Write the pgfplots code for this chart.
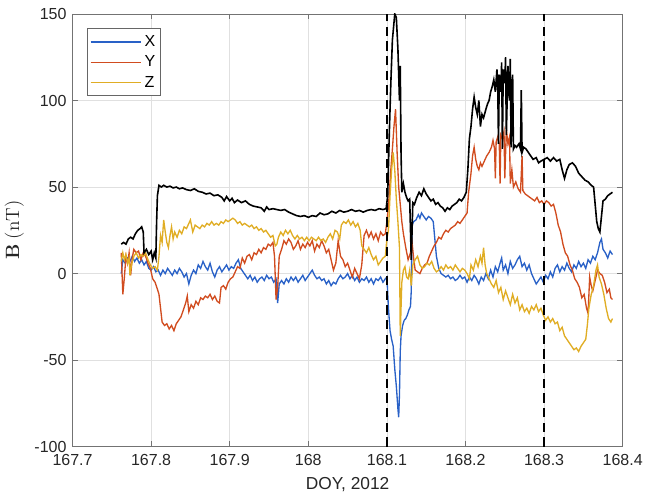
\documentclass[border=0pt]{standalone}
\usepackage[no-math]{fontspec}
\setmainfont{Liberation Sans}
\usepackage{pgfplots}
\pgfplotsset{compat=1.18}
\definecolor{mblue}{rgb}{0.16,0.38,0.78}
\definecolor{mred}{rgb}{0.82,0.30,0.12}
\definecolor{myel}{rgb}{0.88,0.68,0.14}
\definecolor{axgray}{rgb}{0.15,0.15,0.15}
\begin{document}
\begin{tikzpicture}
\useasboundingbox (-54.4pt,-40pt) rectangle (429.4pt,335pt);
\begin{axis}[
  at={(0pt,0pt)}, anchor=south west,
  width=412.65pt, height=324.5pt, scale only axis,
  xmin=167.7, xmax=168.4, ymin=-100, ymax=150,
  xtick={167.7,167.8,167.9,168.0,168.1,168.2,168.3,168.4},
  xticklabels={167.7,167.8,167.9,168,168.1,168.2,168.3,168.4},
  ytick={-100,-50,0,50,100,150},
  yticklabels={-100,-50,0,50,100,150},
  tick align=inside, major tick length=4pt,
  grid=major, grid style={black!12, line width=0.5pt},
  axis line style={black!55, line width=0.6pt},
  tick style={black!55, line width=0.6pt},
  ticklabel style={font=\fontsize{12}{14}\selectfont, text=axgray},
  xticklabel style={yshift=-2.5pt},
  yticklabel style={xshift=-1pt},
  xlabel={DOY, 2012},
  ylabel={$\mathbf{B}\ (\mathrm{nT})$},
  xlabel style={font=\fontsize{13}{15}\selectfont, text=axgray, yshift=-2pt},
  ylabel style={font=\fontsize{14.5}{16}\selectfont, text=axgray, yshift=1pt},
  legend style={at={(0.026,0.967)}, anchor=north west, draw=black!60, line width=0.6pt,
    font=\fontsize{12}{14}\selectfont, row sep=1.5pt, inner xsep=2pt, inner ysep=3pt},
  legend cell align=left,
  legend image code/.code={\draw[#1] (0pt,0pt) -- (38pt,0pt);},
]
% X (blue)
\addplot[mblue, line width=1pt] coordinates {
(167.762,0) (167.764,8) (167.767,6) (167.770,9) (167.773,7) (167.776,10) (167.779,7) (167.782,9) (167.785,6) (167.788,8)
(167.791,5) (167.794,7) (167.797,3) (167.800,2) (167.803,4) (167.806,1) (167.809,2) (167.812,-1) (167.815,2) (167.818,0)
(167.821,3) (167.824,1) (167.827,-1) (167.830,2) (167.833,0) (167.836,3) (167.839,1) (167.842,-2) (167.845,0) (167.848,-6)
(167.851,-1) (167.854,2) (167.857,0) (167.860,5) (167.863,3) (167.866,7) (167.869,4) (167.872,2) (167.875,6) (167.878,1)
(167.881,-2) (167.884,2) (167.887,4) (167.890,1) (167.893,3) (167.896,5) (167.899,2) (167.902,4) (167.905,3) (167.908,6)
(167.911,8) (167.914,3) (167.917,1) (167.920,-1) (167.923,-3) (167.926,-1) (167.929,-4) (167.932,-2) (167.935,-5) (167.938,-3)
(167.941,-2) (167.944,-4) (167.947,-1) (167.950,-3) (167.953,-2) (167.956,-5) (167.959,-3) (167.961,-17) (167.963,-6) (167.966,-4)
(167.969,-6) (167.972,-3) (167.975,-5) (167.978,-2) (167.981,-4) (167.984,-2) (167.987,-5) (167.990,-3) (167.993,-1) (167.996,-4)
(167.999,-2) (168.002,0) (168.005,2) (168.008,-1) (168.011,-3) (168.014,-2) (168.017,-4) (168.020,-3) (168.023,-6) (168.026,-4)
(168.029,-7) (168.032,-5) (168.035,-6) (168.038,-3) (168.041,-1) (168.044,-3) (168.047,-2) (168.050,0) (168.053,-3) (168.056,-1)
(168.059,-4) (168.062,-2) (168.065,-5) (168.068,-3) (168.071,-4) (168.074,-2) (168.077,-5) (168.080,-3) (168.083,-6) (168.086,-3)
(168.089,-4) (168.092,-2) (168.095,-5) (168.098,-3) (168.100,-2) (168.102,-20) (168.104,-33) (168.106,-38) (168.108,-42) (168.110,-55)
(168.112,-65) (168.114,-78) (168.115,-83) (168.116,-70) (168.117,-45) (168.118,-36) (168.120,-30) (168.122,-27) (168.124,-26) (168.126,-24)
(168.128,-21) (168.130,-19) (168.131,-10) (168.132,28) (168.134,30) (168.137,31) (168.140,34) (168.142,32) (168.144,35) (168.147,33)
(168.150,31) (168.153,33) (168.156,32) (168.159,30) (168.161,20) (168.163,10) (168.166,3) (168.169,0) (168.172,-1) (168.175,-2)
(168.178,-1) (168.181,-3) (168.184,-2) (168.187,-4) (168.190,-3) (168.193,-1) (168.196,-3) (168.199,-2) (168.202,-5) (168.205,-2)
(168.208,-4) (168.211,-1) (168.214,-3) (168.217,-6) (168.220,-2) (168.223,-4) (168.226,0) (168.229,-3) (168.232,2) (168.235,-2)
(168.238,4) (168.241,1) (168.244,6) (168.246,9) (168.248,2) (168.251,5) (168.254,0) (168.257,7) (168.260,3) (168.263,5)
(168.266,8) (168.269,10) (168.272,4) (168.275,6) (168.278,2) (168.281,5) (168.284,0) (168.287,-3) (168.290,-6) (168.293,-4)
(168.296,-2) (168.299,-5) (168.302,-1) (168.305,-3) (168.308,1) (168.311,-2) (168.314,3) (168.317,5) (168.320,1) (168.323,4)
(168.326,2) (168.329,6) (168.332,3) (168.335,1) (168.338,5) (168.341,3) (168.344,7) (168.347,4) (168.350,6) (168.353,3)
(168.356,8) (168.359,6) (168.362,10) (168.365,8) (168.368,12) (168.371,18) (168.373,20) (168.375,14) (168.378,12) (168.381,9)
(168.384,13) (168.387,11)
};
\addlegendentry{X}
% Y (red)
\addplot[mred, line width=1pt] coordinates {
(167.762,12) (167.764,-12) (167.766,-2) (167.768,10) (167.770,6) (167.772,12) (167.774,-1) (167.776,9) (167.778,14) (167.781,12)
(167.784,13) (167.787,8) (167.790,12) (167.793,10) (167.796,6) (167.799,3) (167.802,-3) (167.805,-5) (167.808,-9) (167.810,-12)
(167.812,-20) (167.814,-28) (167.817,-30) (167.820,-29) (167.823,-32) (167.826,-30) (167.829,-33) (167.832,-29) (167.835,-27) (167.838,-25)
(167.841,-21) (167.844,-17) (167.846,-13) (167.848,-22) (167.851,-18) (167.854,-20) (167.857,-16) (167.860,-18) (167.863,-14) (167.866,-15)
(167.869,-13) (167.872,-14) (167.875,-12) (167.878,-15) (167.881,-13) (167.884,-16) (167.887,-17) (167.889,-8) (167.892,-7) (167.895,-9)
(167.898,-5) (167.901,-3) (167.904,-2) (167.907,1) (167.910,4) (167.913,3) (167.916,9) (167.919,6) (167.922,10) (167.925,11)
(167.928,8) (167.931,12) (167.934,11) (167.937,14) (167.940,12) (167.943,15) (167.946,14) (167.949,17) (167.952,16) (167.955,18)
(167.957,10) (167.959,-15) (167.961,-8) (167.963,10) (167.966,14) (167.969,19) (167.972,17) (167.975,20) (167.978,18) (167.981,14)
(167.984,16) (167.987,19) (167.990,14) (167.993,17) (167.996,15) (167.999,18) (168.002,16) (168.005,19) (168.008,13) (168.011,17)
(168.014,15) (168.017,19) (168.020,16) (168.023,12) (168.026,14) (168.029,8) (168.032,2) (168.035,6) (168.038,19) (168.041,10)
(168.044,8) (168.047,4) (168.050,6) (168.053,2) (168.056,-2) (168.059,3) (168.062,0) (168.065,-3) (168.068,5) (168.071,22)
(168.074,25) (168.077,21) (168.080,24) (168.083,20) (168.086,23) (168.089,19) (168.092,24) (168.095,22) (168.098,23) (168.100,30)
(168.102,39) (168.105,60) (168.107,72) (168.109,85) (168.111,95) (168.113,70) (168.115,50) (168.117,40) (168.119,30) (168.121,23)
(168.124,15) (168.127,8) (168.130,12) (168.132,18) (168.134,9) (168.136,2) (168.139,1) (168.142,0) (168.145,3) (168.148,5)
(168.151,6) (168.154,10) (168.157,13) (168.160,16) (168.163,18) (168.166,21) (168.169,20) (168.172,23) (168.175,25) (168.178,24)
(168.181,26) (168.184,27) (168.187,28) (168.190,30) (168.193,29) (168.196,31) (168.199,33) (168.202,35) (168.204,47) (168.207,58)
(168.209,68) (168.211,73) (168.213,66) (168.215,62) (168.217,60) (168.219,64) (168.221,62) (168.224,65) (168.227,68) (168.230,70)
(168.233,73) (168.235,77) (168.237,72) (168.238,55) (168.239,76) (168.241,79) (168.243,75) (168.244,52) (168.245,80) (168.247,78)
(168.249,82) (168.250,55) (168.252,83) (168.254,75) (168.256,79) (168.257,52) (168.259,60) (168.261,50) (168.264,53) (168.267,49)
(168.270,47) (168.272,68) (168.273,48) (168.276,46) (168.279,45) (168.282,44) (168.285,43) (168.288,42) (168.291,44) (168.294,41)
(168.297,42) (168.300,40) (168.303,42) (168.306,41) (168.309,39) (168.312,40) (168.315,35) (168.318,28) (168.321,24) (168.324,17)
(168.327,12) (168.330,10) (168.333,5) (168.336,2) (168.339,-3) (168.342,-5) (168.345,-8) (168.348,-14) (168.351,-12) (168.354,-20)
(168.356,-23) (168.358,-2) (168.360,-7) (168.362,-10) (168.365,-4) (168.368,2) (168.371,0) (168.374,-1) (168.377,-5) (168.380,-11)
(168.383,-9) (168.385,-14) (168.387,-15)
};
\addlegendentry{Y}
% Z (yellow)
\addplot[myel, line width=1pt] coordinates {
(167.762,7) (167.764,12) (167.766,8) (167.768,11) (167.770,6) (167.772,9) (167.773,-1) (167.775,5) (167.778,10) (167.781,12)
(167.784,9) (167.787,11) (167.790,10) (167.793,12) (167.796,8) (167.799,5) (167.802,3) (167.805,4) (167.808,2) (167.810,10)
(167.812,22) (167.814,18) (167.816,31) (167.818,24) (167.820,18) (167.822,15) (167.824,22) (167.826,27) (167.828,20) (167.830,24)
(167.833,21) (167.836,25) (167.839,23) (167.842,27) (167.845,26) (167.848,29) (167.850,31) (167.853,24) (167.856,28) (167.859,27)
(167.862,26) (167.865,28) (167.868,27) (167.871,29) (167.874,28) (167.877,30) (167.880,28) (167.883,29) (167.886,28) (167.889,30)
(167.892,29) (167.895,31) (167.898,30) (167.901,31) (167.904,32) (167.907,31) (167.910,29) (167.913,30) (167.916,28) (167.919,29)
(167.922,28) (167.925,27) (167.928,28) (167.931,26) (167.934,27) (167.937,25) (167.940,26) (167.943,24) (167.946,25) (167.949,23)
(167.952,21) (167.955,22) (167.958,16) (167.960,17) (167.962,21) (167.965,24) (167.968,22) (167.971,25) (167.974,23) (167.977,25)
(167.980,22) (167.983,20) (167.986,22) (167.989,20) (167.992,21) (167.995,19) (167.998,21) (168.001,19) (168.004,21) (168.007,20)
(168.010,19) (168.013,21) (168.016,19) (168.019,20) (168.022,18) (168.025,21) (168.028,23) (168.031,20) (168.034,25) (168.037,24)
(168.040,20) (168.042,28) (168.045,30) (168.048,29) (168.051,31) (168.054,28) (168.057,30) (168.060,27) (168.063,29) (168.066,25)
(168.068,16) (168.071,14) (168.074,12) (168.077,15) (168.080,11) (168.083,8) (168.086,10) (168.089,5) (168.092,7) (168.095,9)
(168.098,10) (168.100,20) (168.102,25) (168.104,45) (168.106,60) (168.108,70) (168.110,60) (168.112,43) (168.114,30) (168.116,15)
(168.117,-36) (168.118,-20) (168.119,-5) (168.121,2) (168.123,4) (168.125,-2) (168.127,-3) (168.129,2) (168.131,-7) (168.133,5)
(168.136,8) (168.139,10) (168.142,5) (168.145,3) (168.148,4) (168.151,6) (168.154,5) (168.157,7) (168.160,3) (168.163,1)
(168.166,2) (168.169,4) (168.172,2) (168.175,5) (168.178,3) (168.181,4) (168.184,2) (168.187,5) (168.190,3) (168.193,1)
(168.196,3) (168.199,2) (168.202,0) (168.205,-3) (168.207,5) (168.210,2) (168.213,8) (168.216,4) (168.219,10) (168.221,6)
(168.223,15) (168.225,5) (168.227,0) (168.230,-3) (168.233,-6) (168.236,-8) (168.239,-4) (168.242,-11) (168.245,-8) (168.248,-15)
(168.251,-10) (168.254,-14) (168.257,-18) (168.260,-12) (168.263,-17) (168.266,-14) (168.269,-21) (168.272,-18) (168.275,-22) (168.278,-20)
(168.281,-23) (168.284,-19) (168.287,-21) (168.290,-18) (168.293,-22) (168.296,-20) (168.299,-24) (168.302,-27) (168.305,-25) (168.308,-28)
(168.311,-26) (168.314,-29) (168.317,-28) (168.320,-33) (168.323,-31) (168.326,-36) (168.329,-38) (168.332,-40) (168.335,-42) (168.338,-44)
(168.341,-43) (168.344,-45) (168.347,-42) (168.350,-40) (168.353,-38) (168.355,-30) (168.357,-20) (168.360,-12) (168.363,-7) (168.366,2)
(168.368,5) (168.370,-2) (168.373,-6) (168.376,-12) (168.379,-20) (168.382,-26) (168.385,-28) (168.387,-26)
};
\addlegendentry{Z}
% |B| (black)
\addplot[black, line width=1.2pt, forget plot] coordinates {
(167.762,17) (167.765,18) (167.768,17) (167.771,20) (167.774,21) (167.777,20) (167.780,23) (167.783,25) (167.786,26) (167.788,27)
(167.790,24) (167.791,12) (167.794,14) (167.797,11) (167.800,13) (167.802,8) (167.804,12) (167.806,9) (167.807,30) (167.808,45)
(167.810,51) (167.813,50) (167.816,51) (167.820,50) (167.824,50.5) (167.828,49.5) (167.832,50) (167.836,49) (167.840,49.5) (167.845,48.5)
(167.850,48) (167.855,49) (167.860,47.5) (167.865,47) (167.870,46) (167.875,46.5) (167.880,45) (167.885,45.5) (167.890,44) (167.893,42)
(167.896,44.5) (167.900,42) (167.903,43.5) (167.906,41) (167.910,42.5) (167.915,41) (167.920,42) (167.925,40) (167.930,39) (167.935,38.5)
(167.940,38) (167.944,36) (167.947,38.5) (167.950,37) (167.955,37.5) (167.960,37) (167.965,36.5) (167.970,37) (167.975,35.5) (167.980,34.5)
(167.985,33.5) (167.990,33) (167.995,33.5) (168.000,32.5) (168.005,33.5) (168.010,33) (168.015,35) (168.020,34) (168.025,34.5) (168.030,36)
(168.035,35) (168.040,36.5) (168.045,35.5) (168.050,36) (168.055,37) (168.060,36) (168.065,36.5) (168.070,35.5) (168.075,36.5) (168.080,37)
(168.085,36.5) (168.090,37.5) (168.095,37) (168.099,37.5) (168.101,45) (168.103,80) (168.105,110) (168.107,135) (168.109,145) (168.110,150)
(168.112,148) (168.114,130) (168.116,100) (168.117,120) (168.118,70) (168.119,47) (168.121,52) (168.123,47) (168.125,44) (168.127,42)
(168.129,43) (168.131,8) (168.133,41) (168.135,40) (168.138,44) (168.141,47) (168.144,45) (168.147,49) (168.150,46) (168.153,44)
(168.156,42) (168.159,43) (168.162,40) (168.165,41) (168.168,39) (168.171,38) (168.174,36) (168.177,38) (168.180,37) (168.183,39)
(168.186,40) (168.189,41) (168.192,43) (168.195,42) (168.198,44) (168.201,47) (168.203,60) (168.205,78) (168.207,85) (168.209,95)
(168.211,102) (168.213,96) (168.215,92) (168.217,100) (168.219,85) (168.221,92) (168.223,90) (168.226,95) (168.228,98) (168.230,100)
(168.232,105) (168.234,108) (168.236,112) (168.238,105) (168.240,118) (168.241,110) (168.242,75) (168.243,115) (168.245,105) (168.246,122)
(168.247,72) (168.248,118) (168.250,110) (168.251,125) (168.252,80) (168.254,120) (168.256,100) (168.257,124) (168.258,73) (168.260,115)
(168.261,72) (168.263,74) (168.265,73) (168.268,75) (168.270,72) (168.271,106) (168.272,70) (168.274,73) (168.277,72) (168.280,70)
(168.283,68) (168.286,66) (168.290,67) (168.293,64) (168.296,65) (168.300,66) (168.304,67) (168.308,65) (168.312,67) (168.316,65)
(168.320,66) (168.323,60) (168.326,55) (168.329,60) (168.332,63) (168.336,64) (168.340,62) (168.344,58) (168.348,56) (168.352,54)
(168.356,53) (168.360,51) (168.363,50) (168.365,40) (168.367,30) (168.369,26) (168.371,24) (168.373,33) (168.375,42) (168.378,43)
(168.381,45) (168.384,46) (168.387,47)
};
% dashed markers
\addplot[black, line width=1.9pt, dash pattern=on 7pt off 4pt, forget plot] coordinates {(168.1,-100) (168.1,150)};
\addplot[black, line width=1.9pt, dash pattern=on 7pt off 4pt, forget plot] coordinates {(168.3,-100) (168.3,150)};
\end{axis}
\end{tikzpicture}
\end{document}
